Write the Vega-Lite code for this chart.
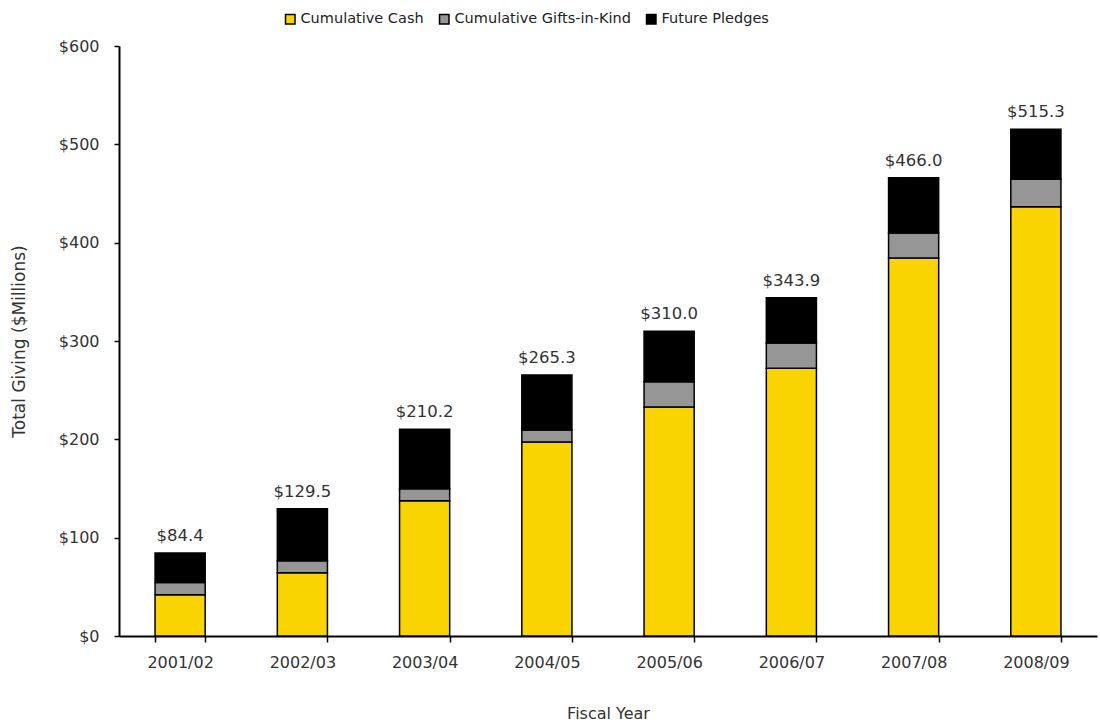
{
  "$schema": "https://vega.github.io/schema/vega-lite/v6.json",
  "autosize": "none",
  "width": 978,
  "height": 590,
  "padding": {"left": 119, "top": 46, "right": 3, "bottom": 87},
  "background": "white",
  "config": {
    "font": "DejaVu Sans",
    "view": {"stroke": null},
    "axis": {"labelFont": "DejaVu Sans", "titleFont": "DejaVu Sans", "labelColor": "#333333", "titleColor": "#333333", "titleFontWeight": "normal", "domainColor": "#000000", "tickColor": "#000000", "domainWidth": 2, "tickWidth": 1.5, "grid": false}
  },
  "datasets": {
    "parts": [
      {"year": "2001/02", "category": "Cumulative Cash", "ord": 1, "value": 42.0},
      {"year": "2001/02", "category": "Cumulative Gifts-in-Kind", "ord": 2, "value": 12.5},
      {"year": "2001/02", "category": "Future Pledges", "ord": 3, "value": 29.9},
      {"year": "2002/03", "category": "Cumulative Cash", "ord": 1, "value": 64.4},
      {"year": "2002/03", "category": "Cumulative Gifts-in-Kind", "ord": 2, "value": 12.2},
      {"year": "2002/03", "category": "Future Pledges", "ord": 3, "value": 52.9},
      {"year": "2003/04", "category": "Cumulative Cash", "ord": 1, "value": 137.6},
      {"year": "2003/04", "category": "Cumulative Gifts-in-Kind", "ord": 2, "value": 12.2},
      {"year": "2003/04", "category": "Future Pledges", "ord": 3, "value": 60.4},
      {"year": "2004/05", "category": "Cumulative Cash", "ord": 1, "value": 197.3},
      {"year": "2004/05", "category": "Cumulative Gifts-in-Kind", "ord": 2, "value": 12.2},
      {"year": "2004/05", "category": "Future Pledges", "ord": 3, "value": 55.8},
      {"year": "2005/06", "category": "Cumulative Cash", "ord": 1, "value": 232.9},
      {"year": "2005/06", "category": "Cumulative Gifts-in-Kind", "ord": 2, "value": 25.7},
      {"year": "2005/06", "category": "Future Pledges", "ord": 3, "value": 51.4},
      {"year": "2006/07", "category": "Cumulative Cash", "ord": 1, "value": 272.2},
      {"year": "2006/07", "category": "Cumulative Gifts-in-Kind", "ord": 2, "value": 25.8},
      {"year": "2006/07", "category": "Future Pledges", "ord": 3, "value": 45.9},
      {"year": "2007/08", "category": "Cumulative Cash", "ord": 1, "value": 384.4},
      {"year": "2007/08", "category": "Cumulative Gifts-in-Kind", "ord": 2, "value": 25.4},
      {"year": "2007/08", "category": "Future Pledges", "ord": 3, "value": 56.2},
      {"year": "2008/09", "category": "Cumulative Cash", "ord": 1, "value": 436.6},
      {"year": "2008/09", "category": "Cumulative Gifts-in-Kind", "ord": 2, "value": 27.8},
      {"year": "2008/09", "category": "Future Pledges", "ord": 3, "value": 50.9}
    ],
    "totals": [
      {"year": "2001/02", "total": 84.4},
      {"year": "2002/03", "total": 129.5},
      {"year": "2003/04", "total": 210.2},
      {"year": "2004/05", "total": 265.3},
      {"year": "2005/06", "total": 310.0},
      {"year": "2006/07", "total": 343.9},
      {"year": "2007/08", "total": 466.0},
      {"year": "2008/09", "total": 515.3}
    ]
  },
  "layer": [
    {
      "data": {"name": "parts"},
      "mark": {"type": "bar", "stroke": "#000000", "strokeWidth": 1.5},
      "encoding": {
        "x": {"field": "year", "type": "nominal", "sort": null,
              "scale": {"paddingInner": 0.59, "paddingOuter": 0.295},
              "axis": {"title": "Fiscal Year", "labelAngle": 0, "labelFontSize": 16, "titleFontSize": 16, "labelPadding": 12, "titlePadding": 35, "tickBand": "extent", "tickSize": 6}},
        "y": {"field": "value", "type": "quantitative", "stack": "zero",
              "scale": {"domain": [0, 600], "nice": false},
              "axis": {"title": "Total Giving ($Millions)", "values": [0, 100, 200, 300, 400, 500, 600], "format": "$,.0f", "labelFontSize": 16, "titleFontSize": 17, "tickSize": 5, "labelPadding": 15, "titlePadding": 30}},
        "color": {"field": "category", "type": "nominal",
                  "scale": {"domain": ["Cumulative Cash", "Cumulative Gifts-in-Kind", "Future Pledges"], "range": ["#FAD400", "#969696", "#000000"]},
                  "legend": {"title": null, "orient": "none", "legendX": 164, "legendY": -34, "direction": "horizontal", "columns": 3, "symbolType": "square", "symbolSize": 90, "symbolStrokeColor": "#000000", "symbolStrokeWidth": 1.5, "labelFontSize": 14.5, "labelLimit": 400, "labelColor": "#222222", "labelFont": "DejaVu Sans", "columnPadding": 12, "symbolOffset": 0, "labelOffset": 3}},
        "order": {"field": "ord", "type": "quantitative"}
      }
    },
    {
      "data": {"name": "totals"},
      "mark": {"type": "text", "baseline": "bottom", "dy": -9, "fontSize": 16.5, "color": "#333333", "font": "DejaVu Sans"},
      "encoding": {
        "x": {"field": "year", "type": "nominal", "sort": null},
        "y": {"field": "total", "type": "quantitative"},
        "text": {"field": "total", "type": "quantitative", "format": "$,.1f"}
      }
    }
  ]
}
